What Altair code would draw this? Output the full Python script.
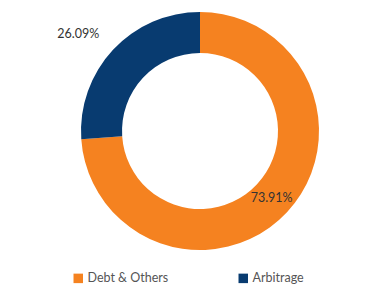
import altair as alt
import pandas as pd

categories = ["Debt & Others", "Arbitrage"]
values = [73.91, 26.09]
labels = ["73.91%", "26.09%"]
order = [0, 1]
colors = ["#F58220", "#083B70"]

df = pd.DataFrame({"category": categories, "value": values, "label": labels, "ord": order})

CX, CY = 200, 131

base = alt.Chart(df).encode(
    theta=alt.Theta("value:Q", stack=True),
    order=alt.Order("ord:Q"),
)

arc = base.mark_arc(innerRadius=78, outerRadius=119, x=CX, y=CY).encode(
    color=alt.Color(
        "category:N",
        scale=alt.Scale(domain=categories, range=colors),
        sort=categories,
        legend=alt.Legend(
            title=None,
            orient="none",
            legendX=72,
            legendY=272,
            direction="horizontal",
            columns=2,
            symbolType="square",
            symbolSize=90,
            symbolStrokeWidth=0,
            labelFont="Lato",
            labelFontSize=12.5,
            labelColor="#555555",
            columnPadding=68,
            labelOffset=3,
        ),
    )
)

txt_in = base.mark_text(radius=98, x=CX, y=CY, font="Lato", fontSize=12.5, color="#333333").encode(
    text="label:N",
    opacity=alt.condition(alt.datum.ord == 0, alt.value(1), alt.value(0)),
)
txt_out = base.mark_text(radius=157, x=CX, y=CY, dx=-7, dy=10, font="Lato", fontSize=12.5, color="#333333").encode(
    text="label:N",
    opacity=alt.condition(alt.datum.ord == 1, alt.value(1), alt.value(0)),
)

chart = alt.layer(arc, txt_in, txt_out).properties(
    width=369, height=294, padding=0, autosize=alt.AutoSizeParams(type="none")
).configure_view(stroke=None)

chart.save("out.html", embed_options={"renderer": "svg", "actions": False})
